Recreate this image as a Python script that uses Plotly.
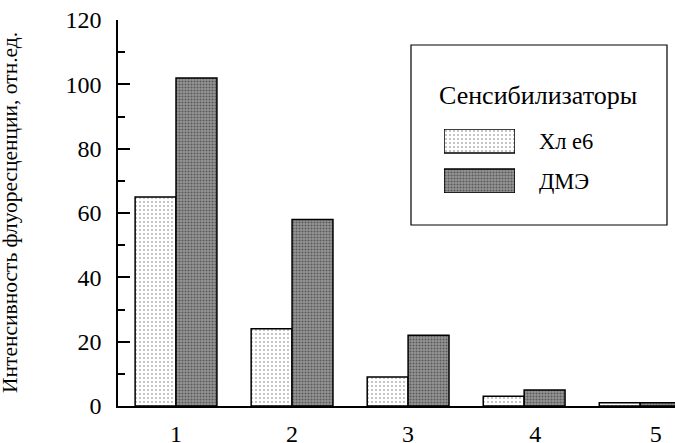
import plotly.graph_objects as go

# ---- data ----
categories = [1, 2, 3, 4, 5]
tick_labels = ["1", "2", "3", "4", "5"]
series_names = ["Хл е6", "ДМЭ"]
values_xl = [65, 24, 9, 3, 1]
values_dme = [102, 58, 22, 5, 1]

FONT = "Liberation Serif"
W, H = 675, 443
L, R, T, B = 118, 0, 20, 37
PW, PH = W - L - R, H - T - B

def px(x):  # pixel -> paper x
    return (x - L) / PW

def py(y):  # pixel -> paper y
    return (H - B - y) / PH

pat_xl = dict(shape=".", bgcolor="white", fgcolor="#707070", size=4, solidity=0.22)
pat_dme = dict(shape=".", bgcolor="#969696", fgcolor="#1e1e1e", size=3, solidity=0.4)
outline = dict(color="black", width=1.5)

fig = go.Figure()
fig.add_trace(go.Bar(x=categories, y=values_xl, name=series_names[0],
                     marker=dict(color="white", pattern=pat_xl, line=outline)))
fig.add_trace(go.Bar(x=categories, y=values_dme, name=series_names[1],
                     marker=dict(color="#969696", pattern=pat_dme, line=outline)))

# legend swatches drawn on an overlay axis pair
fig.add_trace(go.Bar(y=[1], x=[1], orientation="h", width=0.6, xaxis="x2", yaxis="y2",
                     marker=dict(color="white", pattern=pat_xl, line=outline), showlegend=False,
                     hoverinfo="skip"))
fig.add_trace(go.Bar(y=[0], x=[1], orientation="h", width=0.6, xaxis="x2", yaxis="y2",
                     marker=dict(color="#969696", pattern=pat_dme, line=outline), showlegend=False,
                     hoverinfo="skip"))

tick_pos = [1, 2, 3, 4.095, 5.135]

# invisible warm-up texts so the serif faces get resolved by the browser
warm_fonts = ["DejaVu Serif", "serif", "Times New Roman", "Tinos", "'Liberation Serif'"]
warm_ann = [dict(text=".", xref="paper", yref="paper", x=px(600), y=py(300), opacity=0,
                 showarrow=False, font=dict(family=f, size=10, color="white"))
            for f in warm_fonts]

fig.update_layout(
    width=W, height=H,
    margin=dict(l=L, r=R, t=T, b=B, autoexpand=False),
    paper_bgcolor="white", plot_bgcolor="white",
    barmode="group", bargap=0.295, bargroupgap=0,
    showlegend=False,
    font=dict(family=FONT, size=24, color="black"),
    xaxis=dict(range=[0.5, 5.3], tickmode="array", tickvals=tick_pos, ticktext=tick_labels,
               showline=True, linecolor="black", linewidth=1.5, showgrid=False, zeroline=False,
               ticks="", ticklabelstandoff=5, tickfont=dict(family=FONT, size=24),
               automargin=False),
    yaxis=dict(range=[0, 120], dtick=20, showline=True, linecolor="black", linewidth=1.5,
               showgrid=False, zeroline=False, ticks="inside", ticklen=12, tickwidth=1.5,
               tickcolor="black", ticklabelstandoff=10, tickfont=dict(family=FONT, size=24),
               automargin=False,
               minor=dict(dtick=10, ticks="inside", ticklen=7, tickwidth=1.5, tickcolor="black",
                          showgrid=False)),
    xaxis2=dict(domain=[px(444), px(515)], range=[0, 1], anchor="y2", visible=False,
                fixedrange=True, automargin=False),
    yaxis2=dict(domain=[py(193), py(129)], range=[-0.3, 1.3], anchor="x2", visible=False,
                fixedrange=True, automargin=False),
    shapes=[dict(type="rect", xref="paper", yref="paper",
                 x0=px(411), x1=px(667), y0=py(225), y1=py(45),
                 line=dict(color="black", width=1.2), fillcolor="rgba(0,0,0,0)", layer="below")],
    annotations=[
        dict(text="Интенсивность флуоресценции, отн.ед.", textangle=-90, xref="paper", yref="paper",
             x=px(10), y=py(213), showarrow=False, xanchor="center", yanchor="middle",
             font=dict(family=FONT, size=21.5)),
        dict(text="Сенсибилизаторы", xref="paper", yref="paper", x=px(538), y=py(95),
             showarrow=False, xanchor="center", yanchor="middle", font=dict(family=FONT, size=26)),
        dict(text=series_names[0], xref="paper", yref="paper", x=px(537), y=py(141),
             showarrow=False, xanchor="left", yanchor="middle", font=dict(family=FONT, size=22.5)),
        dict(text=series_names[1], xref="paper", yref="paper", x=px(537), y=py(181),
             showarrow=False, xanchor="left", yanchor="middle", font=dict(family=FONT, size=22.5)),
    ] + warm_ann,
)

fig.write_html("out.html", config={"displayModeBar": False},
               post_script="document.body.style.margin='0';")
